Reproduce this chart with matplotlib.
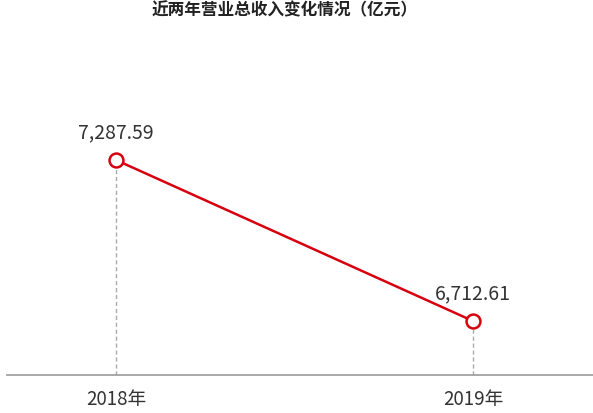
import matplotlib
matplotlib.use("Agg")
import matplotlib.pyplot as plt

plt.rcParams['font.family'] = ['Noto Sans CJK SC', 'DejaVu Sans']

# data
years = ['2018年', '2019年']
values = [7287.59, 6712.61]
title = '近两年营业总收入变化情况（亿元）'

red = '#d7000f'

fig = plt.figure(figsize=(5.93, 4.13), dpi=100)
ax = fig.add_axes([7 / 593, 38 / 413, 586 / 593, 315 / 413])

x = list(range(len(values)))
ymin, ymax = 6519.8, 7644.7

# dashed guides down to the axis
for xi, v in zip(x, values):
    ax.plot([xi, xi], [ymin, v], color='#aaaaaa', lw=1, ls=(0, (3, 2)), zorder=1)

ax.plot(x, values, color=red, lw=1.8, marker='o', ms=10, mfc='white',
        mec=red, mew=1.8, zorder=3)

for xi, v in zip(x, values):
    ax.annotate(f'{v:,.2f}', (xi, v), xytext=(0, 12), textcoords='offset points',
                ha='center', va='bottom', fontsize=14, color='#333333',
                fontweight='light')

ax.set_xlim(-0.305, 1.336)
ax.set_ylim(ymin, ymax)
ax.set_xticks(x)
ax.set_xticklabels(years, fontsize=13.5, color='#333333', fontweight='light')
ax.tick_params(axis='x', length=0, pad=10)
ax.set_yticks([])
for s in ['top', 'right', 'left']:
    ax.spines[s].set_visible(False)
ax.spines['bottom'].set_color('#999999')
ax.spines['bottom'].set_linewidth(1.2)

fig.text(0.48, 1 - 1 / 413, title, ha='center', va='top', fontsize=12,
         fontweight='bold', color='#222222')

fig.savefig('out.png', dpi=100)
